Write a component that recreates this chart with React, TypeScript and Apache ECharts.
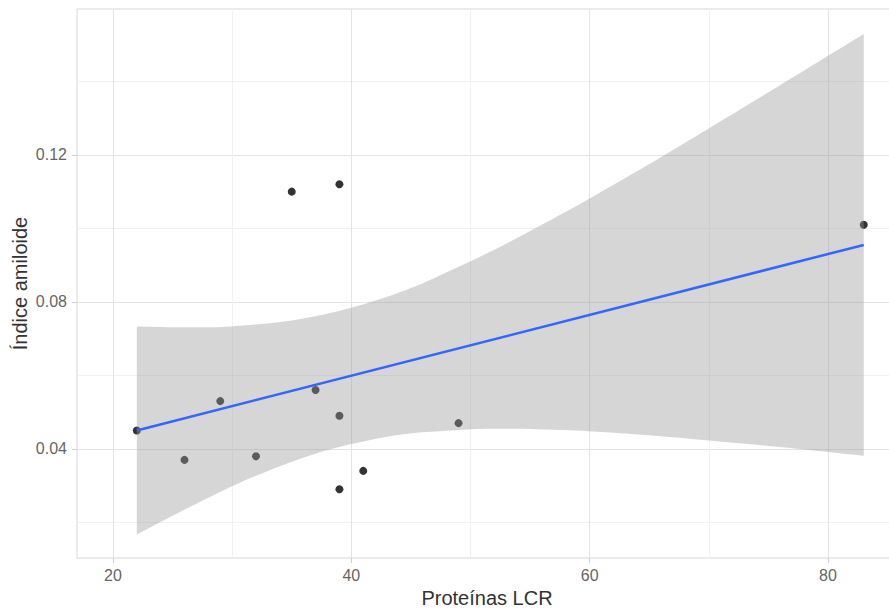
import React, { useEffect, useRef } from "react";
import * as echarts from "echarts";

// Observed points
const xVals = [22, 26, 29, 32, 35, 37, 39, 39, 39, 41, 49, 83];
const yVals = [0.045, 0.037, 0.053, 0.038, 0.110, 0.056, 0.112, 0.049, 0.029, 0.034, 0.047, 0.101];

// Fitted line
const fitX = [22, 83];
const fitY = [0.045, 0.0955];

// Confidence band
const bandX = [22, 25, 28, 31, 34, 37, 40, 43, 46, 52, 58, 64, 70, 76, 83];
const bandLow = [0.0167, 0.0218, 0.0267, 0.0313, 0.0353, 0.0387, 0.0413, 0.0433, 0.0445, 0.0455, 0.0451, 0.0439, 0.0423, 0.0405, 0.0381];
const bandHigh = [0.0733, 0.0731, 0.0731, 0.0736, 0.0745, 0.0761, 0.0784, 0.0814, 0.0851, 0.0942, 0.1045, 0.1156, 0.1272, 0.1390, 0.1529];

// Ticks
const xTicks = [20, 40, 60, 80];
const xMinorTicks = [30, 50, 70];
const yTicks = [0.04, 0.08, 0.12];
const yMinorTicks = [0.02, 0.06, 0.1, 0.14];

const X_MIN = 16.98;
const X_MAX = 85.79;
const Y_MIN = 0.0103;
const Y_MAX = 0.1597;

const FONT = "'Liberation Sans', Arial, sans-serif";

export default function App() {
  const ref = useRef<HTMLDivElement>(null);

  useEffect(() => {
    const chart = echarts.init(ref.current!, null, { renderer: "svg" });
    const majorX = {
      type: "value",
      min: X_MIN,
      max: X_MAX,
      position: "bottom",
      axisLine: { show: false },
      axisTick: { show: true, length: 5, lineStyle: { color: "#cfcfcf", width: 1 }, customValues: xTicks },
      axisLabel: { customValues: xTicks, fontSize: 16, color: "#666666", margin: 9, fontFamily: FONT },
      splitLine: { show: true, lineStyle: { color: "#e3e3e3", width: 1 } },
      name: "Proteínas LCR",
      nameLocation: "middle",
      nameGap: 30,
      nameMoveOverlap: false,
      nameTextStyle: { fontSize: 20, color: "#333333", fontFamily: FONT },
    };
    const minorX = {
      type: "value",
      min: X_MIN,
      max: X_MAX,
      axisLine: { show: false },
      axisTick: { show: false, customValues: xMinorTicks },
      axisLabel: { show: false, customValues: xMinorTicks },
      splitLine: { show: true, lineStyle: { color: "#f1f1f1", width: 1 } },
    };
    const majorY = {
      type: "value",
      min: Y_MIN,
      max: Y_MAX,
      position: "left",
      axisLine: { show: false },
      axisTick: { show: true, length: 5, lineStyle: { color: "#cfcfcf", width: 1 }, customValues: yTicks },
      axisLabel: { customValues: yTicks, fontSize: 16, color: "#666666", margin: 10, fontFamily: FONT },
      splitLine: { show: true, lineStyle: { color: "#e3e3e3", width: 1 } },
      name: "Índice amiloide",
      nameLocation: "middle",
      nameGap: 47,
      nameMoveOverlap: false,
      nameTextStyle: { fontSize: 20, color: "#333333", fontFamily: FONT },
    };
    const minorY = {
      type: "value",
      min: Y_MIN,
      max: Y_MAX,
      axisLine: { show: false },
      axisTick: { show: false, customValues: yMinorTicks },
      axisLabel: { show: false, customValues: yMinorTicks },
      splitLine: { show: true, lineStyle: { color: "#f1f1f1", width: 1 } },
    };

    chart.setOption({
      animation: false,
      backgroundColor: "#ffffff",
      textStyle: { fontFamily: FONT },
      grid: {
        left: 77,
        top: 9,
        width: 820,
        bottom: 54,
        outerBoundsMode: "none",
        containLabel: false,
        show: true,
        borderColor: "#d6d6d6",
        borderWidth: 1,
        backgroundColor: "transparent",
      },
      xAxis: [majorX, minorX],
      yAxis: [majorY, minorY],
      series: [
        {
          type: "scatter",
          xAxisIndex: 0,
          yAxisIndex: 0,
          z: 1,
          symbolSize: 8,
          itemStyle: { color: "#000000" },
          data: xVals.map((x, i) => [x, yVals[i]]),
        },
        {
          type: "line",
          xAxisIndex: 0,
          yAxisIndex: 0,
          z: 2,
          stack: "band",
          symbol: "none",
          smooth: 0.3,
          lineStyle: { opacity: 0 },
          encode: { x: 1, y: 0 },
          data: bandX.map((x, i) => [bandLow[i], x]),
        },
        {
          type: "line",
          xAxisIndex: 0,
          yAxisIndex: 0,
          z: 2,
          stack: "band",
          symbol: "none",
          smooth: 0.3,
          lineStyle: { opacity: 0 },
          areaStyle: { color: "rgba(153,153,153,0.4)", opacity: 1 },
          encode: { x: 1, y: 0 },
          data: bandX.map((x, i) => [bandHigh[i] - bandLow[i], x]),
        },
        {
          type: "line",
          xAxisIndex: 0,
          yAxisIndex: 0,
          z: 3,
          symbol: "none",
          lineStyle: { color: "#3366FF", width: 2.5 },
          data: fitX.map((x, i) => [x, fitY[i]]),
        },
      ],
    });
    return () => chart.dispose();
  }, []);

  return (
    <div
      ref={ref}
      style={{ position: "fixed", left: 0, top: 0, width: 889, height: 612, background: "#ffffff" }}
    />
  );
}
